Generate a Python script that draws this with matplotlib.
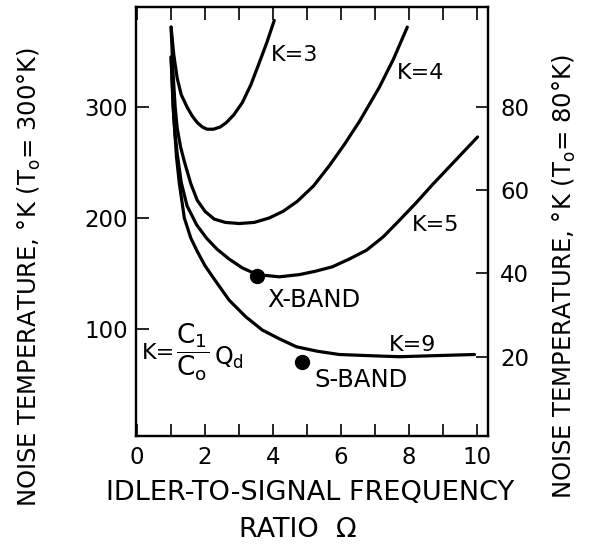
import matplotlib
matplotlib.use("Agg")
import matplotlib.pyplot as plt

plt.rcParams['font.family'] = ['DejaVu Sans']
plt.rcParams['mathtext.fontset'] = 'dejavusans'

# curves: (ratio, noise temperature at To=300 K)
k3_x = [1.00, 1.08, 1.18, 1.30, 1.47, 1.62, 1.77, 1.92, 2.06, 2.25, 2.45, 2.63, 2.85,
        3.10, 3.35, 3.60, 3.82, 4.04]
k3_t = [372, 347, 326, 311, 300, 292, 286, 282, 280, 280, 282, 286, 293,
        304, 320, 340, 358, 378]

k4_x = [1.00, 1.06, 1.12, 1.18, 1.28, 1.39, 1.58, 1.77, 2.00, 2.27, 2.60, 3.01, 3.45,
        3.89, 4.30, 4.72, 5.20, 5.66, 6.10, 6.55, 7.14, 7.55, 7.96]
k4_t = [372, 330, 300, 281, 264, 251, 231, 216, 206, 199, 196, 195, 196,
        200, 206, 215, 229, 247, 266, 287, 318, 343, 372]

k5_x = [1.00, 1.06, 1.12, 1.18, 1.30, 1.47, 1.75, 2.04, 2.35, 2.71, 3.10, 3.54, 4.19,
        4.78, 5.25, 5.75, 6.25, 6.76, 7.25, 7.73, 8.20, 8.70, 9.35, 10.03]
k5_t = [345, 300, 275, 258, 232, 211, 194, 182, 172, 163, 155, 149, 147,
        149, 152, 156, 163, 171, 183, 198, 213, 230, 251, 273]

k9_x = [1.00, 1.08, 1.16, 1.24, 1.39, 1.58, 1.77, 2.00, 2.27, 2.71, 3.20, 3.69, 4.20,
        4.69, 5.30, 5.96, 6.80, 7.73, 8.80, 9.94]
k9_t = [345, 290, 255, 232, 200, 182, 170, 157, 145, 126, 111, 99, 91,
        84, 80, 77, 76, 75, 76, 77]

band_names = ['X-BAND', 'S-BAND']
band_x = [3.54, 4.87]
band_t = [148, 70]

curve_labels = ['K=3', 'K=4', 'K=5', 'K=9']
label_x = [3.95, 7.64, 8.08, 7.43]
label_t = [347, 331, 194, 86]

left_ticks = [100, 200, 300]
right_ticks = [20, 40, 60, 80]
x_ticks = [0, 2, 4, 6, 8, 10]

fig = plt.figure(figsize=(5.97, 5.46), dpi=100)
ax = fig.add_axes([0.228, 0.2015, 0.589, 0.7855])

for xs, ts in [(k3_x, k3_t), (k4_x, k4_t), (k5_x, k5_t), (k9_x, k9_t)]:
    ax.plot(xs, ts, color='black', lw=2.3, solid_joinstyle='round', solid_capstyle='round')

ax.plot(band_x, band_t, 'o', color='black', ms=10)

for name, x, t in zip(curve_labels, label_x, label_t):
    ax.text(x, t, name, fontsize=16, ha='left', va='center')

ax.text(band_x[0] + 0.3, 126, band_names[0], fontsize=17.5, ha='left', va='center')
ax.text(band_x[1] + 0.35, 54, band_names[1], fontsize=17.5, ha='left', va='center')

# K = C1/Co Qd, built from three pieces so the fraction can be larger
ax.text(0.15, 78, 'K=', fontsize=16, ha='left', va='center')
ax.text(1.14, 79, r'$\mathrm{\dfrac{C_1}{C_o}}$', fontsize=19, ha='left', va='center')
ax.text(2.27, 74, r'Q$_\mathrm{d}$', fontsize=17, ha='left', va='center')

ax.set_xlim(-0.03, 10.33)
ax.set_ylim(3.6, 390)
ax.set_xticks(x_ticks)
ax.set_xticks([1, 3, 5, 7, 9], minor=True)
ax.set_yticks(left_ticks)
ax.tick_params(which='both', direction='in', length=9, width=1.2, top=True, right=False,
               labelsize=16.5)
ax.tick_params(axis='x', pad=7)
ax.tick_params(axis='y', pad=6)
for s in ax.spines.values():
    s.set_linewidth(1.6)

ax2 = ax.twinx()
lo, hi = ax.get_ylim()
ax2.set_ylim(lo * 80 / 300, hi * 80 / 300)
ax2.set_yticks(right_ticks)
ax2.tick_params(direction='in', length=9, width=1.2, labelsize=16.5, pad=9)
for s in ax2.spines.values():
    s.set_linewidth(1.6)

fig.text(0.05, 0.493, r'NOISE TEMPERATURE, °K (T$_\mathrm{o}$= 300°K)', rotation=90,
         fontsize=17.5, ha='center', va='center')
fig.text(0.946, 0.493, r'NOISE TEMPERATURE, °K (T$_\mathrm{o}$= 80°K)', rotation=90,
         fontsize=17.5, ha='center', va='center')
fig.text(0.519, 0.097, 'IDLER-TO-SIGNAL FREQUENCY', fontsize=19.5, ha='center', va='center')
fig.text(0.499, 0.029, 'RATIO  Ω', fontsize=19.5, ha='center', va='center')

fig.savefig('out.png', dpi=100)
plt.close(fig)
